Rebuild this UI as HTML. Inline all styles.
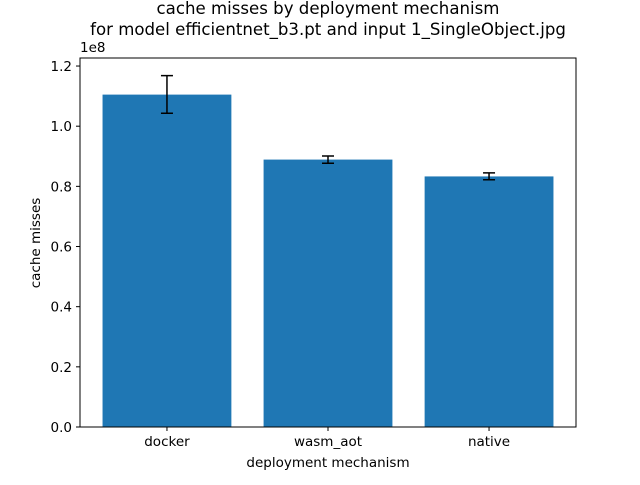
<!DOCTYPE html>
<html><head><meta charset="utf-8"><style>
body{margin:0;background:#fff;font-family:"Liberation Sans","DejaVu Sans",sans-serif;}
svg text{font-family:"DejaVu Sans","Liberation Sans",sans-serif;}
</style></head><body>
<svg id="chart" width="640" height="480" xmlns="http://www.w3.org/2000/svg">
<rect width="640" height="480" fill="#fff"/>
<text x="328" y="14" font-size="16.6" text-anchor="middle">cache misses by deployment mechanism</text>
<text x="328" y="35" font-size="16.6" text-anchor="middle">for model efficientnet_b3.pt and input 1_SingleObject.jpg</text>
<text transform="translate(40,243) rotate(-90)" font-size="13.5" text-anchor="middle">cache misses</text>
<text x="328" y="467" font-size="13.5" text-anchor="middle">deployment mechanism</text>
<text x="80" y="52" font-size="13.5">1e8</text>
<g id="marks"></g>
<rect x="80" y="58" width="496" height="369" fill="none" stroke="#000" stroke-width="1"/>
</svg>
<script>
const categories=["docker","wasm_aot","native"];
const values=[1.105,0.889,0.833];
const errLow=[1.043,0.877,0.822];
const errHigh=[1.168,0.901,0.845];
const yTicks=[0,0.2,0.4,0.6,0.8,1.0,1.2];
const yTickLabels=["0.0","0.2","0.4","0.6","0.8","1.0","1.2"];

const L=80,R=576,T=58,B=427,yMax=1.2267,xMin=-0.54,xMax=2.54;
const y=v=>B-(v/yMax)*(B-T);
const x=i=>L+(i-xMin)/(xMax-xMin)*(R-L);
const bw=0.8*(R-L)/(xMax-xMin);
const g=document.getElementById('marks');
const NS='http://www.w3.org/2000/svg';
function mk(tag,attrs){const e=document.createElementNS(NS,tag);for(const k in attrs)e.setAttribute(k,attrs[k]);g.appendChild(e);return e;}
categories.forEach((c,i)=>{
  const b=mk('rect',{x:x(i)-bw/2,y:y(values[i]),width:bw,height:B-y(values[i]),fill:'#1f77b4'});
  
  
  const cx=x(i);
  const e=mk('path',{d:`M${cx},${y(errLow[i])}V${y(errHigh[i])}M${cx-6},${y(errLow[i])}H${cx+6}M${cx-6},${y(errHigh[i])}H${cx+6}`,stroke:'#000','stroke-width':1.5,fill:'none'});
  
  
  mk('line',{x1:cx,x2:cx,y1:B,y2:B+4,stroke:'#000'});
  const t=mk('text',{x:cx,y:B+19,'font-size':13.5,'text-anchor':'middle'});
  t.textContent=c;
  
  
});
yTicks.forEach((v,i)=>{
  mk('line',{x1:L-4,x2:L,y1:y(v),y2:y(v),stroke:'#000'});
  const t=mk('text',{x:L-8,y:y(v)+5,'font-size':13.5,'text-anchor':'end'});
  t.textContent=yTickLabels[i];
  
  
});
</script>
</body></html>
